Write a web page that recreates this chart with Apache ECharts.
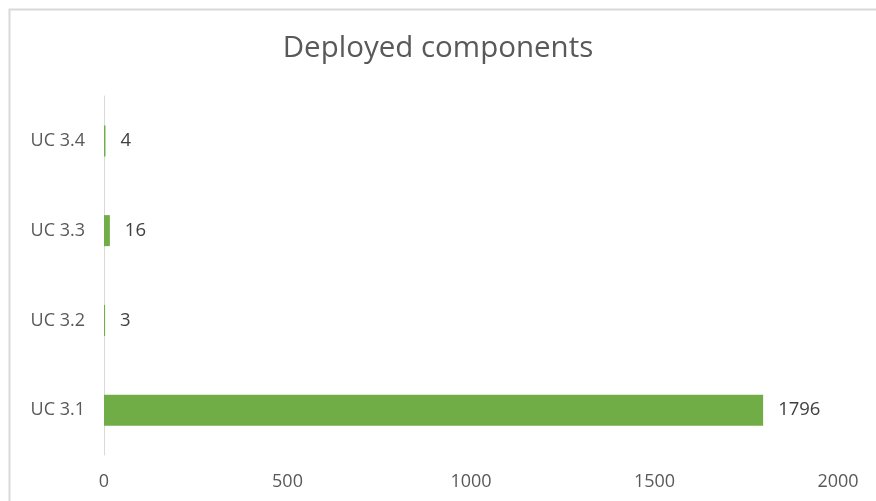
<!DOCTYPE html>
<html><head><meta charset="utf-8">
<script src="https://cdn.jsdelivr.net/npm/echarts@6/dist/echarts.min.js"></script>
<style>html,body{margin:0;padding:0;background:#fff;}#c{width:876px;height:501px;}</style>
</head><body><div id="c"></div>
<script>
const categories = ['UC 3.1', 'UC 3.2', 'UC 3.3', 'UC 3.4'];
const values = [1796, 3, 16, 4];
const xTicks = [0, 500, 1000, 1500, 2000];

const chart = echarts.init(document.getElementById('c'));
chart.setOption({
  backgroundColor: '#fff',
  animation: false,
  title: {
    text: 'Deployed components', left: 'center', top: 29,
    textStyle: { fontFamily: 'Open Sans', fontSize: 29.5, fontWeight: 'normal', color: '#595959' }
  },
  graphic: [{
    type: 'rect', shape: { x: 9.5, y: 9.5, width: 900, height: 600 },
    style: { fill: 'none', stroke: '#d9d9d9', lineWidth: 2 }, silent: true
  }],
  grid: { left: 104, right: 38, top: 96, bottom: 46 },
  xAxis: {
    type: 'value', min: xTicks[0], max: xTicks[xTicks.length - 1], interval: 500,
    axisLine: { show: false }, axisTick: { show: false }, splitLine: { show: false },
    axisLabel: { margin: 18, color: '#595959', fontFamily: 'Open Sans', fontSize: 18,
      formatter: v => String(v) }
  },
  yAxis: {
    type: 'category', data: categories,
    axisLine: { show: true, lineStyle: { color: '#d9d9d9', width: 1 } },
    axisTick: { show: false },
    axisLabel: { margin: 19, color: '#595959', fontFamily: 'Open Sans', fontSize: 18 }
  },
  series: [{
    type: 'bar', data: values, barWidth: 31,
    itemStyle: { color: '#70AD47' },
    label: { show: true, position: 'right', distance: 15, color: '#404040', fontFamily: 'Open Sans', fontSize: 18.5 }
  }]
});
</script></body></html>
